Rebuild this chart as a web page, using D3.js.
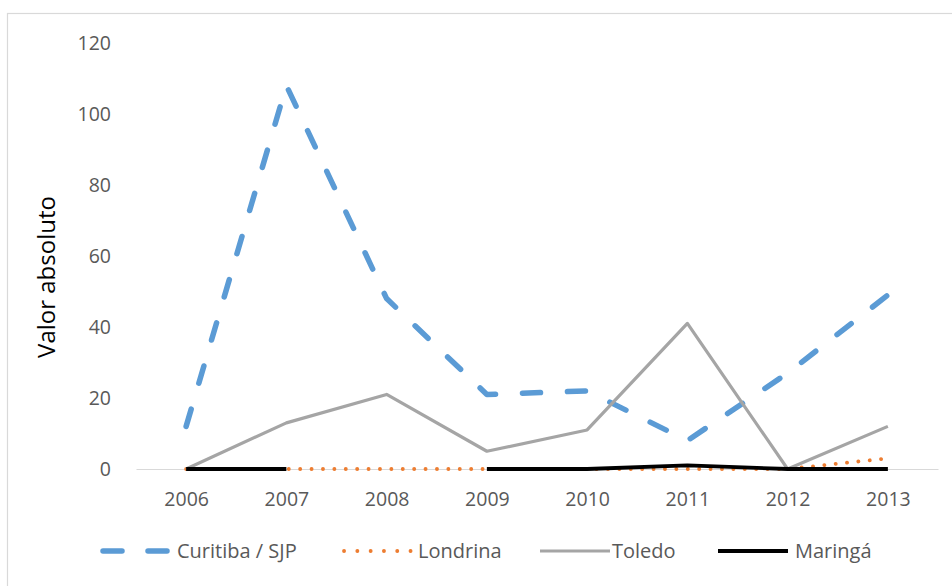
<!DOCTYPE html>
<html>
<head>
<meta charset="utf-8">
<script src="https://cdn.jsdelivr.net/npm/d3@7"></script>
<style>
  html, body { margin: 0; padding: 0; background: #fff; }
  svg { display: block; }
  text { font-family: "Open Sans", "Noto Sans", sans-serif; }
</style>
</head>
<body>
<svg id="chart" width="952" height="586"></svg>
<script>
// Years on the horizontal axis
const years = ["2006", "2007", "2008", "2009", "2010", "2011", "2012", "2013"];

// Absolute counts per city (null = no record for that year)
const curitiba = [12, 108, 48, 21, 22, 8, 27, 49];
const londrina = [0, 0, 0, 0, 0, 0, 0, 3];
const toledo   = [0, 13, 21, 5, 11, 41, 0, 12];
const maringa  = [0, 0, null, 0, 0, 1, 0, 0];

const yTicks = [0, 20, 40, 60, 80, 100, 120];

const seriesNames = ["Curitiba / SJP", "Londrina", "Toledo", "Maringá"];

const series = [
  { name: seriesNames[0], values: curitiba, color: "#5b9bd5", width: 5.5, dash: "18 27", legendDash: "19 26", cap: "round" },
  { name: seriesNames[1], values: londrina, color: "#ed7d31", width: 3.8, dash: "0.1 11.3", legendDash: "0.1 13.2", cap: "round" },
  { name: seriesNames[2], values: toledo,   color: "#a5a5a5", width: 3.2, dash: null, legendDash: null, cap: "butt" },
  { name: seriesNames[3], values: maringa,  color: "#000000", width: 3.8, dash: null, legendDash: null, cap: "butt" }
];

const svg = d3.select("#chart");

// Outer frame of the chart area
svg.append("rect")
  .attr("x", 7.5).attr("y", 13.5)
  .attr("width", 960).attr("height", 600)
  .attr("fill", "#fff")
  .attr("stroke", "#d9d9d9")
  .attr("stroke-width", 1.2);

const x = d3.scalePoint().domain(years).range([136, 938]).padding(0.5);
const y = d3.scaleLinear().domain([0, 120]).range([469, 43]);

// Y axis labels
const yAxis = d3.axisLeft(y).tickValues(yTicks).tickSize(0).tickPadding(0);
const gy = svg.append("g").attr("transform", "translate(111,0)").call(yAxis);
gy.select(".domain").remove();
gy.selectAll("text")
  .attr("fill", "#595959")
  .style("font-size", "19.5px")
  .style("font-family", "'Open Sans', sans-serif");

// X axis with baseline
const xAxis = d3.axisBottom(x).tickSize(0).tickPadding(23);
const gx = svg.append("g").attr("transform", `translate(0,${y(0)})`).call(xAxis);
gx.select(".domain").attr("stroke", "#d9d9d9").attr("stroke-width", 1.2);
gx.selectAll("text")
  .attr("fill", "#595959")
  .style("font-size", "19.5px")
  .style("font-family", "'Open Sans', sans-serif");

// Y axis title
svg.append("text")
  .attr("transform", "translate(55,277) rotate(-90)")
  .attr("text-anchor", "middle")
  .attr("fill", "#000")
  .style("font-size", "24px")
  .text("Valor absoluto");

// Lines
const line = d3.line()
  .defined(d => d != null)
  .x((d, i) => x(years[i]))
  .y(d => y(d));

series.forEach(s => {
  svg.append("path")
    .datum(s.values)
    .attr("d", line)
    .attr("fill", "none")
    .attr("stroke", s.color)
    .attr("stroke-width", s.width)
    .attr("stroke-dasharray", s.dash)
    .attr("stroke-linecap", s.cap)
    .attr("stroke-linejoin", "round");
});

// Legend
const legendX = [100, 341, 540, 718];
const legendGap = [77, 77, 72, 77];
const legendY = 551;
const lg = svg.append("g");
series.forEach((s, i) => {
  const g = lg.append("g").attr("transform", `translate(${legendX[i]},${legendY})`);
  g.append("line")
    .attr("x1", s.cap === "round" ? 3 : 0).attr("x2", 70)
    .attr("y1", 0).attr("y2", 0)
    .attr("stroke", s.color)
    .attr("stroke-width", s.width)
    .attr("stroke-dasharray", s.legendDash)
    .attr("stroke-linecap", s.cap);
  g.append("text")
    .attr("x", legendGap[i]).attr("y", 0)
    .attr("dy", "0.35em")
    .attr("fill", "#595959")
    .style("font-size", "20px")
    .text(s.name);
});
</script>
</body>
</html>
